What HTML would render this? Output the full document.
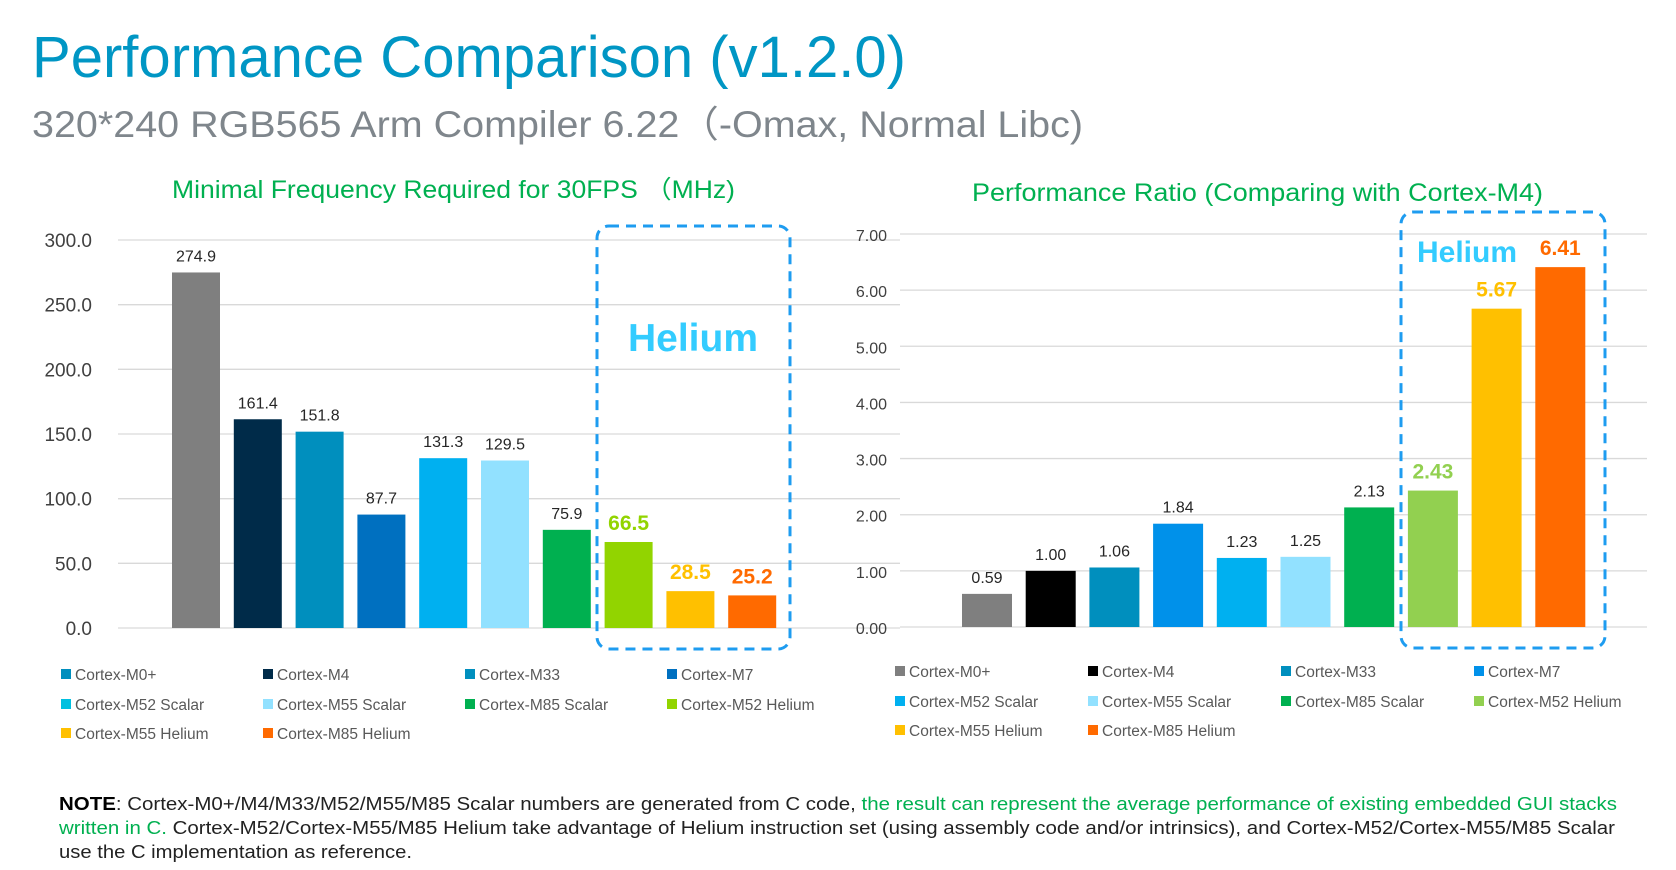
<!DOCTYPE html>
<html><head><meta charset="utf-8"><style>
html,body{margin:0;padding:0;background:#fff;}
svg{display:block;font-family:"Liberation Sans",sans-serif;}
</style></head><body>
<svg id="s" width="1676" height="870" viewBox="0 0 1676 870">
<text x="32" y="77" font-size="58" fill="#0096c4" textLength="874" lengthAdjust="spacingAndGlyphs">Performance Comparison (v1.2.0)</text>
<text x="32" y="137" font-size="37" fill="#7f868c" textLength="1051" lengthAdjust="spacingAndGlyphs">320*240 RGB565 Arm Compiler 6.22（-Omax, Normal Libc)</text>
<text x="172" y="198" font-size="25" fill="#00b050" textLength="563" lengthAdjust="spacingAndGlyphs">Minimal Frequency Required for 30FPS （MHz)</text>
<text x="972" y="201" font-size="25" fill="#00b050" textLength="571" lengthAdjust="spacingAndGlyphs">Performance Ratio (Comparing with Cortex-M4)</text>
<g id="left"></g>
<g id="right"></g>
<g font-size="18" fill="#222">
<text x="59" y="810" textLength="1558" lengthAdjust="spacingAndGlyphs"><tspan font-weight="bold" fill="#000">NOTE</tspan>:  Cortex-M0+/M4/M33/M52/M55/M85 Scalar numbers are generated from C code, <tspan fill="#00b050">the result can represent the average performance of existing embedded GUI stacks</tspan></text>
<text x="59" y="834" textLength="1556" lengthAdjust="spacingAndGlyphs"><tspan fill="#00b050">written in C.</tspan> Cortex-M52/Cortex-M55/M85 Helium take advantage of Helium instruction set (using assembly code and/or intrinsics), and Cortex-M52/Cortex-M55/M85 Scalar</text>
<text x="59" y="858" textLength="353" lengthAdjust="spacingAndGlyphs">use the C implementation as reference.</text>
</g>
</svg>
<script>
const categories=["Cortex-M0+","Cortex-M4","Cortex-M33","Cortex-M7","Cortex-M52 Scalar","Cortex-M55 Scalar","Cortex-M85 Scalar","Cortex-M52 Helium","Cortex-M55 Helium","Cortex-M85 Helium"];
const freqValues=[274.9,161.4,151.8,87.7,131.3,129.5,75.9,66.5,28.5,25.2];
const ratioValues=[0.59,1.00,1.06,1.84,1.23,1.25,2.13,2.43,5.67,6.41];
const freqTicks=[0,50,100,150,200,250,300];
const ratioTicks=[0,1,2,3,4,5,6,7];
const leftColors=["#7f7f7f","#002b49","#008fbe","#0070c0","#00b0f0","#92e1ff","#00b050","#92d400","#ffc000","#ff6a00"];
const rightColors=["#7f7f7f","#000000","#008fbe","#0091ea","#00b0f0","#92e1ff","#00b050","#92d050","#ffc000","#ff6a00"];
const leftLegendColors=["#008fbe","#002b49","#008fbe","#0070c0","#00c0e0","#92e1ff","#00b050","#92d400","#ffc000","#ff6a00"];
const NS="http://www.w3.org/2000/svg";
function mk(p,t,a){const e=document.createElementNS(NS,t);for(const k in a)e.setAttribute(k,a[k]);p.appendChild(e);return e;}
function chart(o){
  const g=document.getElementById(o.id);
  const y=v=>o.y0-(v-o.min)/(o.max-o.min)*(o.y0-o.yTop);
  const x=i=>o.x0+i*o.step;
  o.ticks.forEach(t=>{
    const l=mk(g,'line',{x1:o.gx1,x2:o.gx2,y1:y(t),y2:y(t),stroke:'#d9d9d9','stroke-width':1.3});
    
    
    const tx=mk(g,'text',{x:o.lx,y:y(t)+7,'text-anchor':'end','font-size':o.tfs,fill:'#404040'});
    tx.textContent=t.toFixed(o.dec);
    
    
  });
  o.vals.forEach((v,i)=>{
    const r=mk(g,'rect',{x:x(i),y:y(v),width:o.bw,height:y(0)-y(v),fill:o.colors[i]});
    
    
    const big=i>=7;
    const t=mk(g,'text',{x:x(i)+o.bw/2,y:y(v)-(big?12:11),'text-anchor':'middle','font-size':big?21:16,'font-weight':big?'bold':'normal',fill:big?o.colors[i]:'#262626'});
    t.textContent=v.toFixed(o.dec);
    
    
  });
  const b=mk(g,'rect',{x:o.hb[0],y:o.hb[1],width:o.hb[2],height:o.hb[3],rx:12,fill:'none',stroke:'#1e9cf0','stroke-width':3,'stroke-dasharray':'10 7'});
  
  
  const h=mk(g,'text',{x:o.ht[0],y:o.ht[1],'text-anchor':'middle','font-size':o.ht[2],'font-weight':'bold',fill:'#33ccff'});
  h.textContent='Helium';
  
  
  categories.forEach((c,i)=>{
    const cx=o.legX[i%4],cy=o.legY[Math.floor(i/4)];
    const sw=mk(g,'rect',{x:cx,y:cy-6,width:10,height:10,fill:o.legColors[i]});
    
    
    const t=mk(g,'text',{x:cx+14,y:cy+5,'font-size':15.5,fill:'#595959'});
    t.textContent=c;
    
    
  });
}
chart({id:'left',vals:freqValues,ticks:freqTicks,min:0,max:300,y0:628,yTop:240,x0:172,step:61.8,bw:48,gx1:118,gx2:900,lx:92,tfs:19,dec:1,colors:leftColors,legColors:leftLegendColors,hb:[597,226,193,423],ht:[693,351,39],legX:[61,263,465,667],legY:[675,705,734]});
chart({id:'right',vals:ratioValues,ticks:ratioTicks,min:0,max:7,y0:627,yTop:234,x0:962,step:63.7,bw:50,gx1:900,gx2:1647,lx:887,tfs:16,dec:2,colors:rightColors,legColors:rightColors,hb:[1401,212,204,436],ht:[1467,262,30],legX:[895,1088,1281,1474],legY:[672,702,731]});
</script>
</body></html>
